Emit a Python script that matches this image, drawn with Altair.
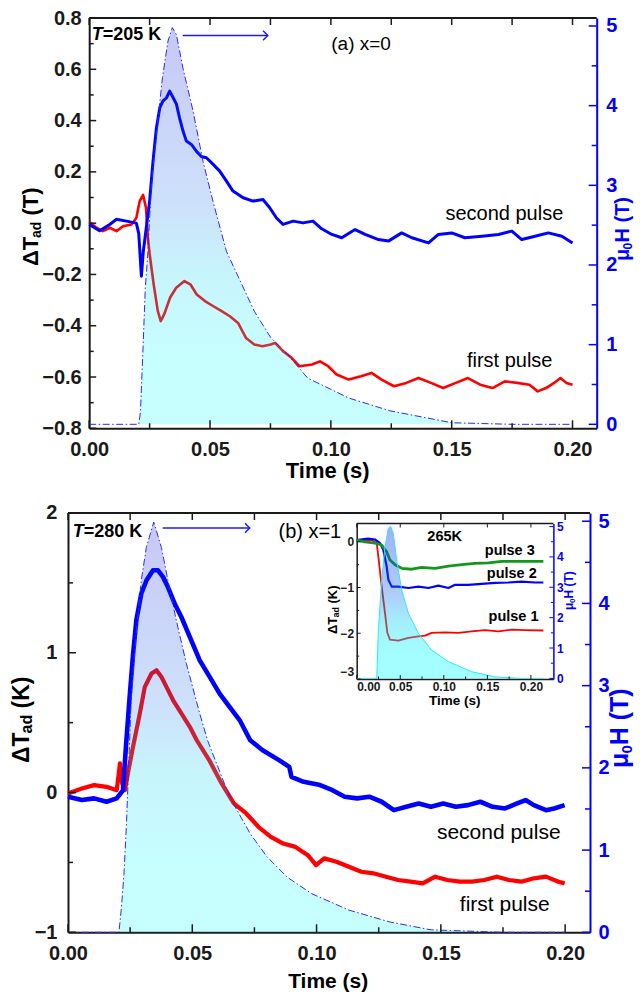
import altair as alt
import pandas as pd

FONT = "Liberation Sans"
BLUE = "#0000ff"
RED = "#ff0000"
GREEN = "#14961e"
AXC = "#1a1a1a"

# ---------------- panel (a): x=0, T=205 K ----------------
a_blue_t = [0.0, 0.0043, 0.0085, 0.0113, 0.0154, 0.0195, 0.0205, 0.0216, 0.0224, 0.025, 0.0264, 0.0278, 0.0292,
            0.0305, 0.032, 0.0333, 0.0347, 0.0361, 0.0374, 0.0388, 0.0402, 0.0423, 0.0444, 0.0464, 0.0485, 0.0512,
            0.054, 0.0568, 0.0595, 0.0637, 0.0678, 0.0719, 0.0747, 0.0775, 0.0802, 0.0844, 0.0885, 0.0926, 0.0962,
            0.1004, 0.1045, 0.11, 0.1142, 0.1197, 0.1238, 0.1293, 0.1335, 0.1404, 0.1445, 0.15, 0.1555, 0.1625,
            0.1694, 0.1749, 0.179, 0.1845, 0.19, 0.1956, 0.2]
a_blue_v = [-0.005, -0.03, -0.005, 0.015, 0.008, 0.0, -0.04, -0.207, -0.11, 0.086, 0.24, 0.37, 0.45,
            0.476, 0.489, 0.515, 0.49, 0.464, 0.41, 0.36, 0.32, 0.307, 0.28, 0.26, 0.255, 0.23,
            0.203, 0.164, 0.125, 0.099, 0.086, 0.092, 0.06, 0.02, -0.005, 0.008, 0.001, 0.008, -0.022,
            -0.044, -0.057, -0.025, -0.044, -0.064, -0.07, -0.038, -0.057, -0.077, -0.044, -0.038, -0.057, -0.051,
            -0.044, -0.031, -0.064, -0.051, -0.038, -0.051, -0.077]
a_red_t = [0.0, 0.003, 0.0057, 0.0085, 0.0113, 0.014, 0.0175, 0.0195, 0.0209, 0.0223, 0.0235, 0.0243, 0.025,
           0.0267, 0.0284, 0.0296, 0.031, 0.0335, 0.036, 0.0394, 0.042, 0.0445, 0.0479, 0.0514, 0.0548, 0.0582,
           0.0616, 0.0649, 0.0683, 0.0717, 0.0751, 0.0769, 0.0803, 0.0837, 0.087, 0.0922, 0.0955, 0.0989, 0.1024,
           0.1074, 0.1125, 0.1168, 0.121, 0.1261, 0.1312, 0.1363, 0.1414, 0.1465, 0.1517, 0.1567, 0.1618, 0.1669,
           0.172, 0.1771, 0.1822, 0.1856, 0.189, 0.1924, 0.195, 0.1975, 0.2]
a_red_v = [0.005, -0.018, -0.031, -0.018, -0.031, -0.012, -0.005, 0.02, 0.086, 0.11, 0.06, -0.06, -0.12,
           -0.24, -0.343, -0.382, -0.356, -0.29, -0.252, -0.226, -0.24, -0.278, -0.304, -0.324, -0.343, -0.363,
           -0.389, -0.448, -0.473, -0.48, -0.473, -0.467, -0.5, -0.525, -0.558, -0.551, -0.539, -0.558, -0.59,
           -0.61, -0.597, -0.584, -0.61, -0.636, -0.623, -0.604, -0.623, -0.643, -0.623, -0.604, -0.63, -0.643,
           -0.617, -0.623, -0.63, -0.656, -0.643, -0.623, -0.604, -0.623, -0.63]
a_H_t = [0.0, 0.0205, 0.0212, 0.0222, 0.0232, 0.0243, 0.0257, 0.0278, 0.0303, 0.0326, 0.0344, 0.0361, 0.0388,
         0.043, 0.0471, 0.0512, 0.0568, 0.0683, 0.0751, 0.082, 0.0904, 0.1074, 0.1244, 0.15, 0.175, 0.2]
a_H = [0.0, 0.0, 0.15, 0.9, 1.7, 2.17, 3.0, 3.64, 4.35, 4.81, 4.98, 4.89, 4.47,
       3.93, 3.3, 2.8, 2.17, 1.42, 1.09, 0.88, 0.58, 0.33, 0.17, 0.02, 0.0, 0.0]

# ---------------- panel (b): x=1, T=280 K ----------------
b_blue_t = [0.0, 0.0056, 0.0105, 0.0155, 0.0196, 0.0221, 0.0235, 0.0248, 0.0262, 0.0275, 0.0295, 0.0316, 0.0342,
            0.0362, 0.0382, 0.0402, 0.0429, 0.0456, 0.049, 0.053, 0.057, 0.061, 0.065, 0.0691, 0.0733, 0.0783,
            0.0849, 0.089, 0.0899, 0.0948, 0.1014, 0.1064, 0.1113, 0.1163, 0.1212, 0.1262, 0.1311, 0.1361, 0.1411,
            0.146, 0.151, 0.156, 0.1609, 0.1659, 0.1708, 0.1758, 0.1807, 0.1841, 0.1874, 0.1923, 0.1956, 0.1998]
b_blue_v = [-0.03, -0.054, -0.042, -0.066, -0.042, 0.016, 0.374, 0.684, 0.994, 1.233, 1.424, 1.519, 1.59,
            1.59, 1.543, 1.47, 1.352, 1.256, 1.113, 0.946, 0.827, 0.708, 0.613, 0.517, 0.374, 0.303,
            0.232, 0.184, 0.112, 0.077, 0.053, 0.017, -0.03, -0.042, -0.03, -0.066, -0.126, -0.102, -0.078,
            -0.102, -0.078, -0.102, -0.09, -0.066, -0.102, -0.114, -0.078, -0.054, -0.09, -0.126, -0.114, -0.09]
b_red_t = [0.0, 0.0056, 0.0105, 0.0155, 0.0196, 0.0209, 0.0218, 0.0229, 0.0246, 0.0262, 0.0289, 0.0309, 0.0336,
           0.0356, 0.0376, 0.0396, 0.0423, 0.0456, 0.049, 0.0518, 0.0568, 0.0618, 0.0667, 0.0717, 0.0766, 0.0816,
           0.0866, 0.0915, 0.0965, 0.0998, 0.1031, 0.108, 0.113, 0.118, 0.1229, 0.1279, 0.1328, 0.1378, 0.1427,
           0.1477, 0.1526, 0.1576, 0.1626, 0.1675, 0.1725, 0.1774, 0.1824, 0.1874, 0.1923, 0.1973, 0.1998]
b_red_v = [-0.007, 0.029, 0.053, 0.041, 0.017, 0.208, 0.065, 0.017, 0.184, 0.33, 0.566, 0.756, 0.852,
           0.875, 0.827, 0.756, 0.66, 0.566, 0.47, 0.374, 0.232, 0.065, -0.078, -0.15, -0.245, -0.317,
           -0.365, -0.389, -0.448, -0.519, -0.471, -0.495, -0.531, -0.567, -0.578, -0.602, -0.626, -0.638, -0.65,
           -0.602, -0.626, -0.638, -0.638, -0.626, -0.602, -0.626, -0.638, -0.614, -0.602, -0.638, -0.65]
b_H_t = [0.0, 0.0205, 0.0215, 0.0225, 0.0235, 0.0245, 0.0255, 0.0275, 0.0295, 0.0315, 0.0345, 0.0376, 0.0402,
         0.0436, 0.0476, 0.053, 0.0562, 0.0651, 0.0733, 0.08, 0.0882, 0.098, 0.113, 0.1295, 0.146, 0.175, 0.2]
b_H = [0.0, 0.0, 0.3, 0.7, 1.3, 2.1, 2.9, 3.67, 4.28, 4.68, 4.99, 4.68, 4.28,
       3.79, 3.27, 2.66, 2.33, 1.64, 1.2, 0.92, 0.67, 0.47, 0.27, 0.125, 0.03, 0.0, 0.0]

# ---------------- inset (265 K) ----------------
i_t3 = [0.0, 0.0096, 0.021, 0.0287, 0.0344, 0.0382, 0.044, 0.0517, 0.0631, 0.0746, 0.0899, 0.1053, 0.1206,
        0.1358, 0.1512, 0.1665, 0.1817, 0.1932, 0.2143]
i_v3 = [0.037, 0.0, -0.03, -0.07, -0.22, -0.4, -0.5, -0.58, -0.6, -0.56, -0.58, -0.53, -0.5,
        -0.47, -0.46, -0.43, -0.43, -0.43, -0.43]
i_t2 = [0.0, 0.013, 0.021, 0.0268, 0.0306, 0.0344, 0.0364, 0.0402, 0.0478, 0.0594, 0.0708, 0.0823, 0.0938,
        0.1053, 0.1129, 0.1282, 0.1435, 0.1588, 0.1741, 0.1894, 0.2047, 0.2143]
i_v2 = [0.037, 0.07, 0.05, -0.03, -0.18, -0.54, -0.83, -0.98, -0.98, -1.01, -0.98, -1.01, -0.96,
        -1.01, -0.94, -0.94, -0.92, -0.9, -0.89, -0.87, -0.89, -0.89]
i_t1 = [0.0, 0.0172, 0.023, 0.0249, 0.0287, 0.0325, 0.0352, 0.0382, 0.0478, 0.0594, 0.0708, 0.0784, 0.0861,
        0.1014, 0.1168, 0.132, 0.1473, 0.1627, 0.178, 0.1932, 0.2143]
i_v1 = [0.037, 0.037, -0.03, -0.33, -0.98, -1.56, -1.99, -2.14, -2.16, -2.1, -2.07, -2.05, -1.99,
        -1.98, -1.99, -1.96, -1.93, -1.96, -1.92, -1.93, -1.94]
i_H_t = [0.0, 0.023, 0.0249, 0.0287, 0.0325, 0.0364, 0.039, 0.0421, 0.0459, 0.0517, 0.0594, 0.0708, 0.0861,
         0.1053, 0.132, 0.1588, 0.1894, 0.2143]
i_H = [0.0, 0.0, 1.59, 3.24, 4.34, 4.95, 5.0, 4.78, 3.9, 2.9, 2.14, 1.48, 0.93,
       0.55, 0.22, 0.05, 0.0, 0.0]

X_TICKS = [0.0, 0.05, 0.1, 0.15, 0.2]
X_MINOR = [0.025, 0.075, 0.125, 0.175]
X_TOP = [0.025 * i for i in range(9)]

# ---------------- page geometry (pixels on the page) ----------------
OX, OY = 68.3, 18.0            # page position of the frame origin
A_L, A_R, A_T, A_B = 89.5, 597.0, 18.0, 428.3
B_L, B_R, B_T, B_B = 68.3, 590.3, 513.0, 932.3
I_L, I_R, I_T, I_B = 357.0, 553.7, 523.5, 679.0
W = A_R - OX
H = B_B - OY


def fx(px):
    return px - OX


def fy(py):
    return py - OY


XA = alt.Scale(domain=[0, 0.21], range=[fx(A_L), fx(A_R)], nice=False, zero=False)
YA = alt.Scale(domain=[-0.8, 0.8], range=[fy(A_B), fy(A_T)], nice=False, zero=False)
HSA = alt.Scale(domain=[-0.05, 5.1], range=[fy(A_B), fy(A_T)], nice=False, zero=False)
XB = alt.Scale(domain=[0, 0.21], range=[fx(B_L), fx(B_R)], nice=False, zero=False)
YB = alt.Scale(domain=[-1, 2], range=[fy(B_B), fy(B_T)], nice=False, zero=False)
HSB = alt.Scale(domain=[0, 5.1], range=[fy(B_B), fy(B_T)], nice=False, zero=False)
IXS = alt.Scale(domain=[0, 0.2258], range=[fx(I_L), fx(I_R)], nice=False, zero=False)
IYS = alt.Scale(domain=[-3, 0.4], range=[fy(I_B), fy(I_T)], nice=False, zero=False)
IHS = alt.Scale(domain=[-0.02, 5.1], range=[fy(I_B), fy(I_T)], nice=False, zero=False)

ONE = pd.DataFrame({"k": [0]})


def axis(orient, values, fmt, size, pad, color=AXC, offset=0.0, dw=2.0, flush=False):
    return alt.Axis(orient=orient, values=values, format=fmt, title=None, ticks=False,
                    grid=False, labelFont=FONT, labelFontSize=size, labelFontWeight="bold",
                    labelColor=color, domainColor=color, domainWidth=dw, labelPadding=pad,
                    offset=offset, labelOverlap=False, labelFlush=flush)


def line(t, v, xs, ys, color, width, xaxis=None, yaxis=None):
    d = pd.DataFrame({"t": t, "v": v})
    return alt.Chart(d).mark_line(color=color, strokeWidth=width, strokeJoin="round").encode(
        x=alt.X("t:Q", scale=xs, axis=xaxis), y=alt.Y("v:Q", scale=ys, axis=yaxis))


def xticks(vals, xs, y0, y1, color=AXC, w=1.5):
    return alt.Chart(pd.DataFrame({"t": vals})).mark_rule(color=color, strokeWidth=w).encode(
        x=alt.X("t:Q", scale=xs, axis=None), y=alt.value(fy(y0)), y2=alt.value(fy(y1)))


def yticks(vals, ys, x0, x1, color=AXC, w=1.5):
    return alt.Chart(pd.DataFrame({"v": vals})).mark_rule(color=color, strokeWidth=w).encode(
        y=alt.Y("v:Q", scale=ys, axis=None), x=alt.value(fx(x0)), x2=alt.value(fx(x1)))


def prule(x, x2, y, y2, color=AXC, w=2.0, op=1.0):
    return alt.Chart(ONE).mark_rule(color=color, strokeWidth=w, opacity=op).encode(
        x=alt.value(fx(x)), x2=alt.value(fx(x2)), y=alt.value(fy(y)), y2=alt.value(fy(y2)))


def ptext(s, x, y, size, color="black", weight="bold", angle=0, align="center", baseline="middle", style="normal"):
    return alt.Chart(ONE).mark_text(text=s, font=FONT, fontSize=size, fontWeight=weight, fontStyle=style,
                                    color=color, angle=angle, align=align, baseline=baseline).encode(
        x=alt.value(fx(x)), y=alt.value(fy(y)))


def dtext(s, t, v, xs, ys, size, color="black", weight="normal", align="center", style="normal"):
    d = pd.DataFrame({"t": [t], "v": [v]})
    return alt.Chart(d).mark_text(text=s, font=FONT, fontSize=size, fontWeight=weight, fontStyle=style,
                                  color=color, align=align, baseline="middle").encode(
        x=alt.X("t:Q", scale=xs, axis=None), y=alt.Y("v:Q", scale=ys, axis=None))


def vlabel(parts, xb, y0, color="black"):
    # parts: (text, font size, baseline shift, advance before next part)
    out = []
    y = y0
    for s, size, shift, w in parts:
        out.append(ptext(s, xb + shift, y, size, color=color, angle=270, align="left", baseline="alphabetic"))
        y -= w
    return out


def arrow(t0, t1, v, xs, ys):
    d = pd.DataFrame({"t0": [t0], "t1": [t1], "v": [v]})
    shaft = alt.Chart(d).mark_rule(color="#1a1aff", strokeWidth=1.5).encode(
        x=alt.X("t0:Q", scale=xs, axis=None), x2="t1:Q", y=alt.Y("v:Q", scale=ys, axis=None))
    head = alt.Chart(d).mark_point(shape="M -1 -1 L 0 0 L -1 1", filled=False, size=90, color="#1a1aff",
                                   strokeWidth=1.5, opacity=1).encode(
        x=alt.X("t1:Q", scale=xs, axis=None), y=alt.Y("v:Q", scale=ys, axis=None))
    return [shaft, head]


def grad(top):
    return alt.Gradient(gradient="linear", x1=0, x2=0, y1=0, y2=1,
                        stops=[alt.GradientStop(color=top, offset=0),
                               alt.GradientStop(color="#1e78f0", offset=0.45),
                               alt.GradientStop(color="#00d0f0", offset=0.62),
                               alt.GradientStop(color="#00ffff", offset=0.85),
                               alt.GradientStop(color="#00ffff", offset=1)])


def pulse(t, h, xs, hs, hax, bottom, op, edge, dash, top="#0000d0", edge_w=1.0):
    d = pd.DataFrame({"t": t, "h": h})
    da = d[d["t"] >= 0.02].copy()
    area = alt.Chart(da).mark_area(color=grad(top), fillOpacity=op, strokeWidth=0).encode(
        x=alt.X("t:Q", scale=xs, axis=None), y=alt.Y("h:Q", scale=hs, axis=hax), y2=alt.value(fy(bottom)))
    kw = {"strokeDash": dash} if dash else {}
    ln = alt.Chart(d).mark_line(color=edge, strokeWidth=edge_w, **kw).encode(
        x=alt.X("t:Q", scale=xs, axis=None), y=alt.Y("h:Q", scale=hs, axis=None))
    return [area, ln]


DASH = [7, 2.5, 1.5, 2.5]

# axes (placed with offsets inside the common frame)
axA_x = axis("bottom", X_TICKS, ".2f", 20, 11, offset=-(B_B - A_B))
axA_y = axis("left", [-0.8, -0.6, -0.4, -0.2, 0.0, 0.2, 0.4, 0.6, 0.8], ".1f", 20, 8, offset=-(A_L - OX))
axA_h = axis("right", [0, 1, 2, 3, 4, 5], "d", 20, 9, color=BLUE, offset=0.0)
axB_x = axis("bottom", X_TICKS, ".2f", 20, 11)
axB_y = axis("left", [-1, 0, 1, 2], "d", 20, 11)
axB_h = axis("right", [0, 1, 2, 3, 4, 5], "d", 20, 8, color=BLUE, offset=-(A_R - B_R))
axI_x = axis("bottom", X_TICKS, ".2f", 12, 3, offset=-(B_B - I_B), dw=1.5, flush=True)
axI_y = axis("left", [-3, -2, -1, 0], "d", 12, 3, offset=-(I_L - OX), dw=1.5, flush=True)
axI_h = axis("right", [0, 1, 2, 3, 4, 5], "d", 12, 3, color=BLUE, offset=-(A_R - I_R), dw=1.5)

layers = [
    # ---- panel (a)
    line(a_red_t, a_red_v, XA, YA, RED, 2.6, xaxis=axA_x, yaxis=axA_y),
    line(a_blue_t, a_blue_v, XA, YA, BLUE, 3.0),
    *pulse(a_H_t, a_H, XA, HSA, axA_h, A_B, 0.22, "#2a2aff", DASH),
    yticks([0, 1, 2, 3, 4, 5], HSA, A_R, A_R - 8, color=BLUE),
    yticks([0.5, 1.5, 2.5, 3.5, 4.5], HSA, A_R, A_R - 5, color=BLUE),
    xticks(X_TICKS, XA, A_B, A_B - 8), xticks(X_MINOR, XA, A_B, A_B - 5),
    xticks(X_TOP, XA, A_T, A_T + 7),
    yticks([-0.8, -0.6, -0.4, -0.2, 0.0, 0.2, 0.4, 0.6, 0.8], YA, A_L, A_L + 7),
    yticks([-0.7, -0.5, -0.3, -0.1, 0.1, 0.3, 0.5, 0.7], YA, A_L, A_L + 4.5),
    prule(A_L, A_R, A_T, A_T),
    dtext("second pulse", 0.1718, 0.035, XA, YA, 20),
    dtext("first pulse", 0.174, -0.539, XA, YA, 20),
    dtext("(a)  x=0", 0.1125, 0.699, XA, YA, 19),
    ptext("T", 92, 35, 18, style="italic", align="left"),
    ptext("=205 K", 103, 35, 18, align="left"),
    *arrow(0.0387, 0.0739, 0.732, XA, YA),
    ptext("Time (s)", 328, 471, 22),
    *vlabel([("ΔT", 22, 0, 28), ("ad", 14, 3, 22.5), ("(T)", 22, 0, 28)], 38, 266),
    *vlabel([("μ", 20, 0, 11.5), ("0", 12, 3, 7), ("H (T)", 20, 0, 46)], 629, 261, color=BLUE),
    # ---- panel (b)
    line(b_red_t, b_red_v, XB, YB, RED, 4.2, xaxis=axB_x, yaxis=axB_y),
    line(b_blue_t, b_blue_v, XB, YB, BLUE, 4.6),
    *pulse(b_H_t, b_H, XB, HSB, axB_h, B_B, 0.22, "#2a2aff", DASH),
    yticks([0, 1, 2, 3, 4, 5], HSB, B_R, B_R - 8, color=BLUE),
    yticks([0.5, 1.5, 2.5, 3.5, 4.5], HSB, B_R, B_R - 5, color=BLUE),
    xticks(X_TICKS, XB, B_B, B_B - 8), xticks(X_MINOR, XB, B_B, B_B - 5),
    xticks(X_TOP, XB, B_T, B_T + 7),
    yticks([-1, 0, 1, 2], YB, B_L, B_L + 8),
    yticks([-0.5, 0.5, 1.5], YB, B_L, B_L + 5),
    prule(B_L, B_R, B_T, B_T),
    dtext("second pulse", 0.1733, -0.29, XB, YB, 21),
    dtext("first pulse", 0.1757, -0.804, XB, YB, 21),
    dtext("(b) x=1", 0.0973, 1.863, XB, YB, 20),
    ptext("T", 73, 532.5, 18, style="italic", align="left"),
    ptext("=280 K", 84, 532.5, 18, align="left"),
    *arrow(0.0381, 0.0731, 1.893, XB, YB),
    ptext("Time (s)", 328.5, 982, 21),
    *vlabel([("ΔT", 23, 0, 29.5), ("ad", 16, 3, 25), ("(K)", 23, 0, 32)], 29, 763),
    *vlabel([("μ", 25, 0, 14.4), ("0", 15, 4, 8.3), ("H (T)", 25, 0, 57)], 628, 768, color=BLUE),
    # ---- inset
    line(i_t1, i_v1, IXS, IYS, RED, 1.8, xaxis=axI_x, yaxis=axI_y),
    line(i_t2, i_v2, IXS, IYS, BLUE, 2.2),
    line(i_t3, i_v3, IXS, IYS, GREEN, 2.8),
    *pulse(i_H_t, i_H, IXS, IHS, axI_h, I_B, 0.36, "#30e6f0", None, top="#0020e0"),
    yticks([0, 1, 2, 3, 4, 5], IHS, I_R, I_R - 4, color=BLUE, w=1),
    yticks([0.5, 1.5, 2.5, 3.5, 4.5], IHS, I_R, I_R - 2.5, color=BLUE, w=1),
    xticks(X_TICKS, IXS, I_B, I_B - 4, w=1), xticks(X_MINOR, IXS, I_B, I_B - 2.5, w=1),
    xticks(X_TICKS, IXS, I_T, I_T + 4, w=1),
    yticks([-3, -2, -1, 0], IYS, I_L, I_L + 4, w=1),
    yticks([-2.5, -1.5, -0.5], IYS, I_L, I_L + 2.5, w=1),
    prule(I_L, I_R, I_T, I_T, w=1.5),
    dtext("265K", 0.101, 0.11, IXS, IYS, 14.5, weight="bold"),
    dtext("pulse 3", 0.1757, -0.196, IXS, IYS, 14.5, weight="bold"),
    dtext("pulse 2", 0.178, -0.70, IXS, IYS, 14.5, weight="bold"),
    dtext("pulse 1", 0.18, -1.64, IXS, IYS, 14.5, weight="bold"),
    ptext("Time (s)", 455, 701, 13.5),
    *vlabel([("ΔT", 13, 0, 16.5), ("ad", 9, 2, 14), ("(K)", 13, 0, 20)], 337, 634),
    *vlabel([("μ", 12, 0, 7), ("0", 8, 2, 4.5), ("H (T)", 12, 0, 28)], 573, 610, color=BLUE),
    # left anchor of the drawing (invisible)
    prule(8.6, 8.6, 600, 601, w=1.0, op=0.0),
]

chart = alt.layer(*layers).resolve_scale(x="independent", y="independent").properties(
    width=W, height=H, padding=0
).configure_view(stroke=None)

chart.save("out.html", embed_options={"renderer": "svg", "actions": False})
